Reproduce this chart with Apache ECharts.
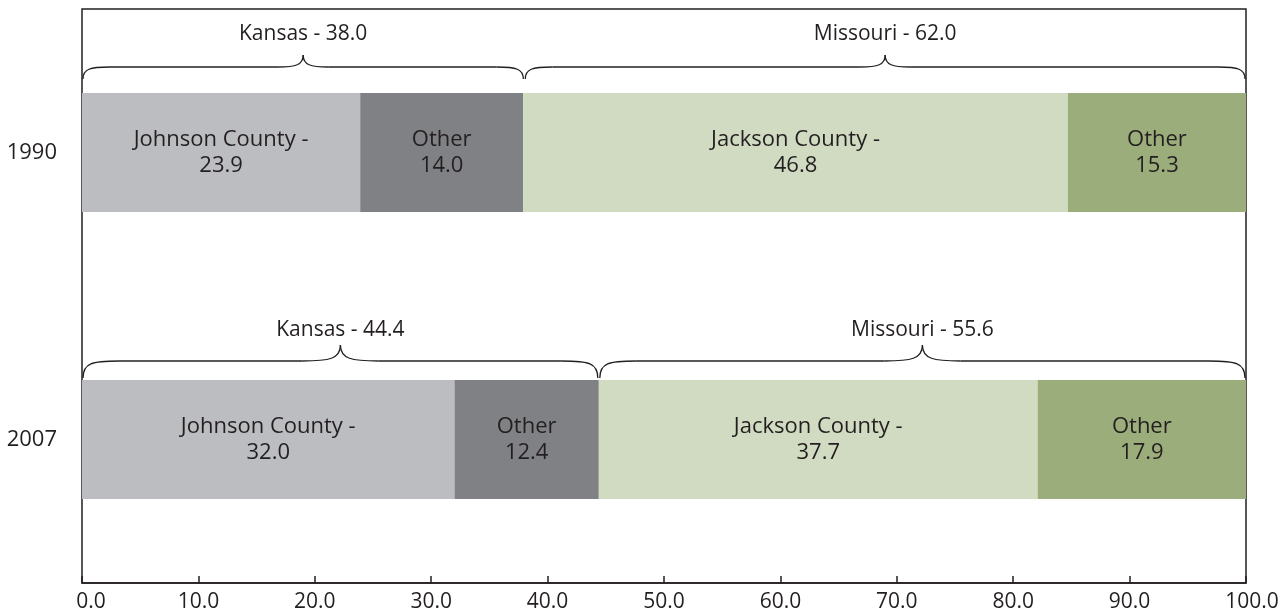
<!DOCTYPE html>
<html>
<head>
<meta charset="utf-8">
<script src="https://cdn.jsdelivr.net/npm/echarts@6/dist/echarts.min.js"></script>
<style>
html,body{margin:0;padding:0;background:#fff;}
#chart{width:1287px;height:614px;}
</style>
</head>
<body>
<div id="chart"></div>
<script>
const years = ['1990', '2007'];
const johnsonCounty = [23.9, 32.0];
const kansasOther = [14.0, 12.4];
const jacksonCounty = [46.8, 37.7];
const missouriOther = [15.3, 17.9];
const kansasTotal = [38.0, 44.4];
const missouriTotal = [62.0, 55.6];
const xTicks = [0, 10, 20, 30, 40, 50, 60, 70, 80, 90, 100];

const FONT = '"Open Sans", sans-serif';
const TXT = '#231F20';
const BAR_W = 119;

// brace data: [start, end, yearIndex, stateName, total]
const braceData = [];
years.forEach((y, i) => {
  braceData.push([0, kansasTotal[i], i, 'Kansas', kansasTotal[i]]);
  braceData.push([kansasTotal[i], kansasTotal[i] + missouriTotal[i], i, 'Missouri', missouriTotal[i]]);
});

// per-row brace style offsets (relative to bar top)
const braceStyle = [
  { end: 14, flat: 26, peak: 38, label: 59, w: 27, pw: 25 },
  { end: 2, flat: 19, peak: 35, label: 50, w: 36, pw: 38 }
];

function barLabel(name) {
  return {
    show: true,
    position: 'inside',
    color: TXT,
    fontFamily: FONT,
    fontSize: 22,
    lineHeight: 26,
    formatter: p => name + '\n' + p.value.toFixed(1)
  };
}

function barSeries(name, labelName, data, color) {
  return {
    name: name,
    type: 'bar',
    stack: 'total',
    barWidth: BAR_W,
    data: data,
    itemStyle: { color: color },
    label: barLabel(labelName),
    silent: true
  };
}

const chart = echarts.init(document.getElementById('chart'));
chart.setOption({
  animation: false,
  grid: {
    left: 82, right: 41, top: 9, bottom: 31,
    show: true, borderColor: TXT, borderWidth: 1.5, backgroundColor: 'transparent'
  },
  xAxis: {
    type: 'value',
    min: xTicks[0], max: xTicks[xTicks.length - 1], interval: 10,
    axisLine: { show: true, lineStyle: { color: TXT, width: 1.5 } },
    axisTick: { show: true, inside: true, length: 7, lineStyle: { color: TXT, width: 1.5 } },
    splitLine: { show: false },
    axisLabel: {
      color: TXT, fontFamily: FONT, fontSize: 21, margin: 9,
      formatter: v => v === 0 ? '{lo|' + v.toFixed(1) + '}' : (v === 100 ? '{hi|' + v.toFixed(1) + '}' : v.toFixed(1)),
      rich: {
        lo: { color: TXT, fontFamily: FONT, fontSize: 21, padding: [0, 0, 0, 18] },
        hi: { color: TXT, fontFamily: FONT, fontSize: 21, padding: [0, 0, 0, 12] }
      }
    }
  },
  yAxis: {
    type: 'category',
    data: years,
    inverse: true,
    axisLine: { show: false },
    axisTick: { show: false },
    axisLabel: { color: TXT, fontFamily: FONT, fontSize: 22, margin: 25 }
  },
  series: [
    barSeries('Johnson County', 'Johnson County -', johnsonCounty, '#BCBDC0'),
    barSeries('Kansas Other', 'Other', kansasOther, '#808184'),
    barSeries('Jackson County', 'Jackson County -', jacksonCounty, '#D0DBC1'),
    barSeries('Missouri Other', 'Other', missouriOther, '#9BAD7A'),
    {
      type: 'custom',
      silent: true,
      encode: { x: [0, 1], y: 2 },
      data: braceData,
      renderItem: function (params, api) {
        const s = api.value(0), e = api.value(1), row = api.value(2);
        const name = braceData[params.dataIndex][3];
        const total = braceData[params.dataIndex][4];
        const p0 = api.coord([s, row]);
        const p1 = api.coord([e, row]);
        const pm = api.coord([(s + e) / 2, row]);
        const st = braceStyle[row];
        const top = p0[1] - BAR_W / 2;
        const yE = top - st.end, yF = top - st.flat, yP = top - st.peak;
        const x0 = p0[0] + 1, x1 = p1[0] - 1, xm = pm[0];
        const w = st.w, pw = st.pw;
        const ls = { stroke: TXT, lineWidth: 1.3, fill: null };
        return {
          type: 'group',
          children: [
            { type: 'bezierCurve', shape: { x1: x0, y1: yE, cpx1: x0, cpy1: yF + 2, cpx2: x0 + w * 0.25, cpy2: yF, x2: x0 + w, y2: yF }, style: ls },
            { type: 'line', shape: { x1: x0 + w, y1: yF, x2: xm - pw, y2: yF }, style: ls },
            { type: 'bezierCurve', shape: { x1: xm - pw, y1: yF, cpx1: xm - pw * 0.3, cpy1: yF, cpx2: xm, cpy2: yF - 2, x2: xm, y2: yP }, style: ls },
            { type: 'bezierCurve', shape: { x1: xm, y1: yP, cpx1: xm, cpy1: yF - 2, cpx2: xm + pw * 0.3, cpy2: yF, x2: xm + pw, y2: yF }, style: ls },
            { type: 'line', shape: { x1: xm + pw, y1: yF, x2: x1 - w, y2: yF }, style: ls },
            { type: 'bezierCurve', shape: { x1: x1 - w, y1: yF, cpx1: x1 - w * 0.25, cpy1: yF, cpx2: x1, cpy2: yF + 2, x2: x1, y2: yE }, style: ls },
            {
              type: 'text',
              style: {
                x: xm, y: top - st.label,
                text: name + ' - ' + total.toFixed(1),
                fill: TXT, font: '21px ' + FONT,
                align: 'center', verticalAlign: 'middle'
              }
            }
          ]
        };
      }
    }
  ]
});
</script>
</body>
</html>
